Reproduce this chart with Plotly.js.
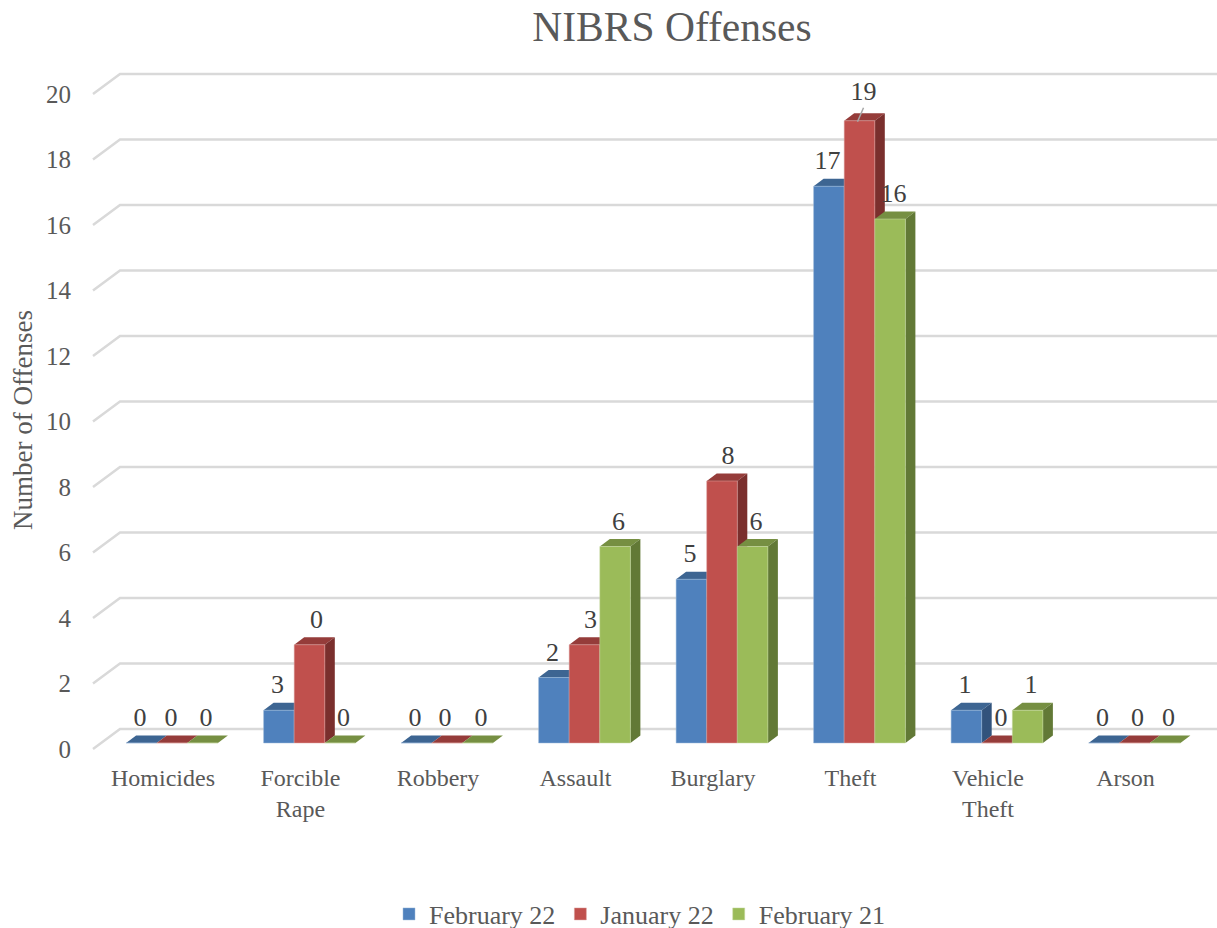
<!DOCTYPE html>
<html>
<head>
<meta charset="utf-8">
<script src="https://cdn.plot.ly/plotly-3.0.1.min.js"></script>
<style>html,body{margin:0;padding:0;background:#fff;overflow:hidden;width:1217px;height:928px}</style>
</head>
<body>
<div id="chart" style="width:1217px;height:950px"></div>
<script>
const categories = ["Homicides","Forcible<br>Rape","Robbery","Assault","Burglary","Theft","Vehicle<br>Theft","Arson"];
const seriesNames = ["February 22","January 22","February 21"];
const feb22Heights = [0,1,0,2,5,17,1,0];
const jan22Heights = [0,3,0,3,8,19,0,0];
const feb21Heights = [0,0,0,6,6,16,1,0];
const feb22Labels = [0,3,0,2,5,17,1,0];
const jan22Labels = [0,0,0,3,8,19,0,0];
const feb21Labels = [0,0,0,6,6,16,1,0];
const yTicks = [0,2,4,6,8,10,12,14,16,18,20];

const FONT = "Liberation Serif, serif";
const W = 1217, H = 950, PL = 80, PT = 70, PB = 770;
const UX = 137.5, UY = 32.75, X0 = 172, Y0 = 743;
const xmin = (PL - X0) / UX, xmax = (W - X0) / UX;
const ymin = (Y0 - PB) / UY, ymax = (Y0 - PT) / UY;
const barW = 0.2225;
const depthX = 10 / UX, depthY = 7.5 / UY;
const frontX = (93 - X0) / UX, backX = (120 - X0) / UX;
const frontDY = -6 / UY, backDY = 14 / UY;

const heights = [feb22Heights, jan22Heights, feb21Heights];
const labels = [feb22Labels, jan22Labels, feb21Labels];
const frontCol = ["#4F81BD","#C0504D","#9BBB59"];
const edgeCol = ["#9DBAD9","#DDA5A3","#C9DBA6"];
const topCol = ["#3D6592","#953C3A","#768F42"];
const sideCol = ["#32537C","#7A2F2D","#627936"];
const labelDx = [
  [-1.5,-1.5,-1.5,-1.5,-1.5,-1.5,-1.5,-1.5],
  [-1,7,-2,6,6,4,4,3],
  [3.5,3.5,3.5,3.5,3.5,3.5,3.5,3.5]
];
const labelRise = 23.5;

const traces = [];
// back wall grid with the slanted floor/side segment
yTicks.forEach(v => {
  traces.push({type:"scatter",mode:"lines",x:[frontX,backX,xmax],
    y:[v+frontDY,v+backDY,v+backDY],line:{color:"#D9D9D9",width:2.5},
    showlegend:false,hoverinfo:"skip"});
});
// depth faces, painted series by series
heights.forEach((vals,s) => {
  vals.forEach((v,i) => {
    const l = i + (s-1.5)*barW, r = l + barW;
    traces.push({type:"scatter",mode:"lines",x:[l,r,r+depthX,l+depthX,l],
      y:[v,v,v+depthY,v+depthY,v],fill:"toself",fillcolor:topCol[s],
      line:{width:0,color:topCol[s]},showlegend:false,hoverinfo:"skip"});
    if (v>0) traces.push({type:"scatter",mode:"lines",x:[r,r+depthX,r+depthX,r,r],
      y:[0,depthY,v+depthY,v,0],fill:"toself",fillcolor:sideCol[s],
      line:{width:0,color:sideCol[s]},showlegend:false,hoverinfo:"skip"});
  });
});
// front faces
heights.forEach((vals,s) => {
  traces.push({type:"bar",name:seriesNames[s],x:categories.map((_,i)=>i),y:vals,
    xaxis:"x2",yaxis:"y2",offsetgroup:String(s),
    marker:{color:frontCol[s],line:{color:edgeCol[s],width:0.5}},hoverinfo:"skip"});
});
// data labels
heights.forEach((vals,s) => {
  traces.push({type:"scatter",mode:"text",xaxis:"x2",yaxis:"y2",
    x:vals.map((_,i)=>i+(s-1)*barW+labelDx[s][i]/UX),
    y:vals.map(v=>v+labelRise/UY+(v===19?4/UY:0)),
    text:labels[s].map(String),textposition:"middle center",
    textfont:{family:FONT,size:26,color:"#404040"},
    cliponaxis:false,showlegend:false,hoverinfo:"skip"});
});
// leader line of the tallest label
const topI = 5;
traces.push({type:"scatter",mode:"lines",xaxis:"x2",yaxis:"y2",
  x:[topI-2/UX,topI+4/UX],y:[19-1/UY,19+13/UY],
  line:{color:"#A6A6A6",width:1.5},showlegend:false,hoverinfo:"skip"});

const layout = {
  width:W,height:H,paper_bgcolor:"#fff",plot_bgcolor:"#fff",
  margin:{l:PL,r:0,t:PT,b:H-PB,pad:0,autoexpand:false},
  barmode:"group",bargap:0.3325,bargroupgap:0,
  hovermode:false,
  font:{family:FONT,color:"#595959"},
  title:{text:"NIBRS Offenses",font:{family:FONT,size:41.5,color:"#595959"},
    x:672/W,xanchor:"center",y:1-26/H,yanchor:"middle"},
  xaxis:{range:[xmin,xmax],tickmode:"array",
    tickvals:categories.map((_,i)=>i-9/UX),ticktext:categories,
    showgrid:false,zeroline:false,showline:false,ticks:"",ticklabelstandoff:-9,
    tickfont:{family:FONT,size:24,color:"#595959"},tickangle:0,automargin:false},
  yaxis:{range:[ymin,ymax],tickmode:"array",
    tickvals:yTicks.map(v=>v+frontDY),ticktext:yTicks.map(String),
    showgrid:false,zeroline:false,showline:false,ticks:"",
    tickfont:{family:FONT,size:25,color:"#595959"},ticklabelstandoff:8,automargin:false,
    title:{text:"Number of Offenses",font:{family:FONT,size:27,color:"#595959"},standoff:5}},
  xaxis2:{range:[xmin,xmax],overlaying:"x",visible:false,fixedrange:true},
  yaxis2:{range:[ymin,ymax],overlaying:"y",visible:false,fixedrange:true},
  showlegend:true,
  legend:{orientation:"h",x:(640-PL)/(W-PL),xanchor:"center",
    y:-(914-PB)/(PB-PT),yanchor:"middle",
    font:{family:FONT,size:26,color:"#595959"},traceorder:"normal"}
};
Plotly.newPlot("chart",traces,layout,{displayModeBar:false,staticPlot:true});
</script>
</body>
</html>
